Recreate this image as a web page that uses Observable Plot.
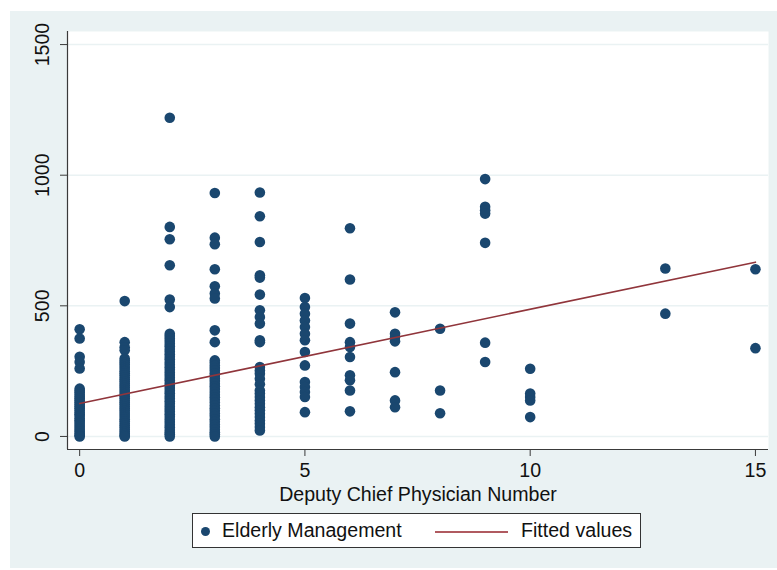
<!DOCTYPE html>
<html>
<head>
<meta charset="utf-8">
<script src="https://cdn.jsdelivr.net/npm/d3@7"></script>
<script src="https://cdn.jsdelivr.net/npm/@observablehq/plot@0.6"></script>
<style>
  html, body { margin: 0; padding: 0; background: #ffffff; }
  body { width: 777px; height: 570px; position: relative; overflow: hidden;
         font-family: "Liberation Sans", Arial, sans-serif; }
  #panel { position: absolute; left: 10px; top: 11px; width: 767px; height: 557px; background: #eaf2f3; }
  #chart { position: absolute; left: 0; top: 0; }
  #legend { position: absolute; left: 182px; top: 502px; width: 449px; height: 35px;
            background: #ffffff; border: 1px solid #333; box-sizing: border-box;
            font-size: 19.6px; color: #111; }
  #legend .dot { position: absolute; left: 8px; top: 13px; width: 9px; height: 9px; border-radius: 50%; background: #1a476f; }
  #legend .lab1 { position: absolute; left: 29px; top: 5px; white-space: nowrap; }
  #legend .line { position: absolute; left: 242px; top: 17px; width: 73px; height: 0; border-top: 2px solid #b05a60; }
  #legend .lab2 { position: absolute; left: 328px; top: 5px; white-space: nowrap; }
</style>
</head>
<body>
<div id="panel">
  <div id="chart"></div>
  <div id="legend">
    <div class="dot"></div><div class="lab1">Elderly Management</div>
    <div class="line"></div><div class="lab2">Fitted values</div>
  </div>
</div>
<script>
// Elderly Management values grouped by Deputy Chief Physician Number
const phys0 = [410, 375, 305, 285, 260, 183, 175, 168, 160, 152, 145, 138, 130, 122, 115, 108, 100, 92, 85, 78, 70, 62, 55, 48, 40, 32, 25, 18, 10, 5, 0];
const phys1 = [518, 361, 341, 330, 298, 290, 282, 274, 266, 258, 250, 242, 234, 226, 218, 210, 202, 194, 186, 178, 170, 162, 154, 146, 138, 130, 122, 114, 106, 98, 90, 82, 74, 66, 58, 50, 42, 34, 26, 18, 10, 4, 0];
const phys2 = [1220, 802, 755, 655, 524, 495, 393, 384, 375, 365, 355, 345, 335, 325, 315, 305, 295, 285, 275, 265, 255, 245, 235, 225, 215, 205, 195, 185, 175, 165, 155, 145, 135, 125, 115, 105, 95, 85, 75, 65, 55, 45, 35, 25, 15, 8, 0];
const phys3 = [932, 761, 736, 640, 575, 547, 528, 406, 361, 291, 282, 272, 262, 252, 242, 232, 222, 212, 202, 192, 182, 170, 160, 150, 140, 130, 118, 108, 98, 88, 78, 66, 56, 46, 36, 26, 16, 8, 0];
const phys4 = [934, 843, 744, 617, 608, 543, 483, 457, 432, 368, 361, 266, 252, 240, 221, 200, 176, 164, 151, 138, 125, 112, 100, 87, 74, 61, 49, 36, 23];
const phys5 = [530, 495, 470, 444, 419, 393, 368, 323, 272, 208, 189, 170, 151, 93];
const phys6 = [797, 601, 432, 361, 342, 304, 234, 215, 176, 96];
const phys7 = [475, 393, 381, 364, 246, 138, 112];
const phys8 = [412, 176, 89];
const phys9 = [985, 879, 866, 853, 741, 359, 285];
const phys10 = [259, 164, 151, 138, 74];
const phys13 = [643, 470];
const phys15 = [640, 338];
const physicianNumbers = [0, 1, 2, 3, 4, 5, 6, 7, 8, 9, 10, 13, 15];
const groups = [phys0, phys1, phys2, phys3, phys4, phys5, phys6, phys7, phys8, phys9, phys10, phys13, phys15];

// Fitted values (linear fit)
const fitX = [0, 15];
const fitY = [126, 667];

// Axis ticks
const xTicks = [0, 5, 10, 15];
const yTicks = [0, 500, 1000, 1500];
const xLabel = "Deputy Chief Physician Number";

const points = [];
groups.forEach((vals, i) => vals.forEach(v => points.push({x: physicianNumbers[i], y: v})));
const fit = fitX.map((x, i) => ({x, y: fitY[i]}));

const xDomain = [-0.27, 15.29];
const yDomain = [-50, 1550];
const FONT = "'Liberation Sans', Arial, sans-serif";
const FS = 19.6;

const chart = Plot.plot({
  width: 767,
  height: 495,
  marginLeft: 57,
  marginRight: 9,
  marginTop: 20,
  marginBottom: 57,
  style: {background: "transparent", fontFamily: FONT, fontSize: FS + "px", color: "#111"},
  x: {type: "linear", domain: xDomain, axis: null},
  y: {type: "linear", domain: yDomain, axis: null},
  marks: [
    Plot.frame({fill: "#ffffff", stroke: null}),
    Plot.ruleY(yTicks, {stroke: "#eaf2f3", strokeWidth: 1.5}),
    Plot.ruleX([xDomain[0]], {stroke: "#3a3a3a", strokeWidth: 1.2}),
    Plot.ruleY([yDomain[0]], {stroke: "#3a3a3a", strokeWidth: 1.2}),
    Plot.axisY(yTicks, {tickSize: 7, tickFormat: () => "", stroke: "#3a3a3a", label: null}),
    Plot.axisX(xTicks, {tickSize: 7, tickPadding: 7, fontSize: FS, stroke: "#3a3a3a", fill: "#111", label: null}),
    Plot.text(yTicks, {y: d => d, frameAnchor: "left", rotate: -90, dx: -19, lineAnchor: "bottom", textAnchor: "middle", fontSize: FS, fill: "#111", text: d => String(d)}),
    Plot.text([xLabel], {frameAnchor: "bottom", dy: 51, lineAnchor: "bottom", fontSize: FS, fill: "#111"}),
    Plot.dot(points, {x: "x", y: "y", r: 5.3, fill: "#1a476f", stroke: null}),
    Plot.line(fit, {x: "x", y: "y", stroke: "#90353b", strokeWidth: 1.6})
  ]
});
document.getElementById("chart").appendChild(chart);
</script>
</body>
</html>
